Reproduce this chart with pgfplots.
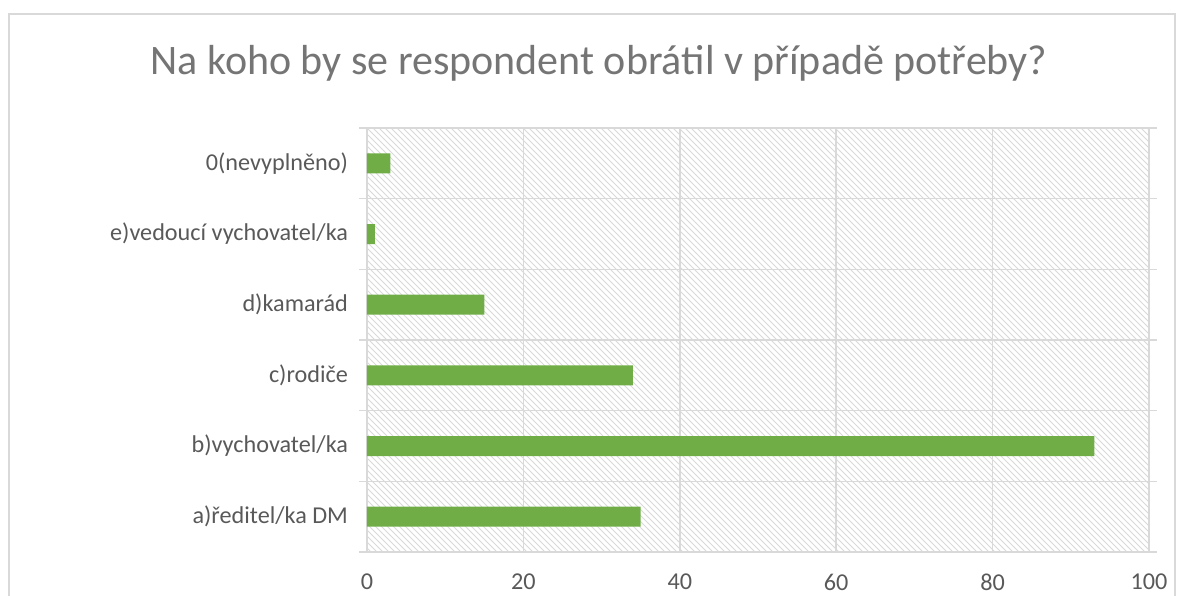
\documentclass[border=0pt]{standalone}
\usepackage{fontspec}
\setmainfont{Carlito}
\usepackage{pgfplots}
\pgfplotsset{compat=1.18}
\usetikzlibrary{patterns}
\definecolor{bargreen}{HTML}{70AD47}
\definecolor{gridgray}{HTML}{D9D9D9}
\definecolor{txtgray}{HTML}{595959}
\definecolor{titlegray}{HTML}{757575}
\begin{document}
\begin{tikzpicture}
\useasboundingbox (-183.5pt,-21.5pt) rectangle (405.5pt,276pt);
\draw[gridgray, line width=1pt] (-179pt,-30pt) -- (-179pt,269pt) -- (404pt,269pt) -- (404pt,-30pt);
\node[anchor=base, text=titlegray, font=\fontsize{21}{25}\selectfont, inner sep=0pt] at (116pt,238.5pt) {Na koho by se respondent obrátil v případě potřeby?};
\begin{axis}[
  at={(0pt,0pt)}, anchor=south west,
  scale only axis, width=391pt, height=212pt,
  xbar, bar width=10pt,
  xmin=0, xmax=100,
  ymin=-0.5, ymax=5.5,
  xtick={0,20,...,100},
  ytick={0,1,2,3,4,5},
  yticklabels={a)ředitel/ka DM, b)vychovatel/ka, c)rodiče, d)kamarád, e)vedoucí vychovatel/ka, 0(nevyplněno)},
  minor ytick={-0.5,0.5,...,5.5},
  xmajorgrids, yminorgrids,
  major grid style={gridgray, line width=0.75pt},
  minor grid style={gridgray, line width=0.75pt},
  axis line style={gridgray, line width=0.75pt},
  major tick length=0pt,
  minor tick length=4pt,
  tick align=outside,
  minor tick style={gridgray, line width=0.75pt},
  major tick style={draw=none},
  ticklabel style={text=txtgray, font=\fontsize{12.1}{14}\selectfont},
  /pgf/number format/assume math mode=true,
  xticklabel style={yshift=-7.5pt},
  yticklabel style={xshift=-6pt},
  axis background/.style={pattern=north west lines, pattern color=gray!30},
  clip=false,
]
\addplot[fill=bargreen, draw=none] coordinates {(35,0) (93,1) (34,2) (15,3) (1,4) (3,5)};
\end{axis}
\end{tikzpicture}
\end{document}
